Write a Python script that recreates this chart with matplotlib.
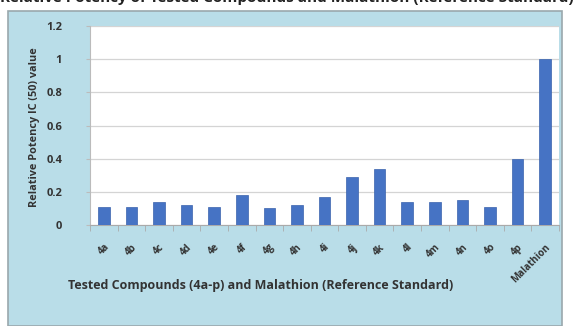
import matplotlib
matplotlib.use("Agg")
import matplotlib.pyplot as plt
from matplotlib.patches import Rectangle
import numpy as np

categories = ["4a", "4b", "4c", "4d", "4e", "4f", "4g", "4h", "4i", "4j",
              "4k", "4l", "4m", "4n", "4o", "4p", "Malathion"]
potency = [0.11, 0.11, 0.14, 0.12, 0.11, 0.18, 0.10, 0.12, 0.17, 0.29,
           0.34, 0.14, 0.14, 0.15, 0.11, 0.40, 1.00]
y_ticks = [0, 0.2, 0.4, 0.6, 0.8, 1.0, 1.2]
y_tick_labels = ["0", "0.2", "0.4", "0.6", "0.8", "1", "1.2"]

W, H = 573, 326
fig = plt.figure(figsize=(W / 100, H / 100), dpi=100)
fig.patch.set_facecolor("white")

plt.rcParams["font.family"] = ["Open Sans", "DejaVu Sans"]

# chart frame
frame = Rectangle((8 / W, 0), (562 - 8) / W, (H - 11) / H,
                  transform=fig.transFigure, facecolor="#b9dde8",
                  edgecolor="#9aa8ad", linewidth=1.2, zorder=0)
fig.patches.append(frame)

# heading running off the top edge
fig.text(0.50, 1.0 + 0.006, "Relative Potency of Tested Compounds and Malathion (Reference Standard)",
         ha="center", va="center", fontsize=11, fontweight="bold", color="#222222",
         zorder=0.5)

ax = fig.add_axes([90 / W, 1 - 225 / H, (559 - 90) / W, (225 - 26) / H])
ax.set_zorder(2)
ax.set_facecolor("white")

x = np.arange(len(categories))
ax.bar(x, potency, width=0.42, color="#4673c4", edgecolor="#3a63ad",
       linewidth=0.5, zorder=3)

ax.set_xlim(-0.5, len(categories) - 0.5)
ax.set_ylim(0, 1.2)
ax.set_yticks(y_ticks)
ax.set_yticklabels(y_tick_labels, fontsize=8, fontweight="bold", color="#333333")
ax.yaxis.grid(True, color="#d4d4d4", linewidth=0.9, zorder=0)
ax.tick_params(axis="y", length=3, color="#bbbbbb", pad=17)

ax.set_xticks(x)
ax.set_xticklabels(categories, rotation=45, ha="right", rotation_mode="anchor",
                   fontsize=7, fontweight="bold", color="#333333")
ax.set_xticks(np.arange(len(categories) + 1) - 0.5, minor=True)
ax.tick_params(axis="x", which="major", length=0, pad=12)
ax.tick_params(axis="x", which="minor", length=4, color="#aaaaaa", direction="out")

for side in ("top", "right"):
    ax.spines[side].set_visible(False)
ax.spines["left"].set_color("#bbbbbb")
ax.spines["bottom"].set_color("#aaaaaa")

fig.text(35 / W, 1 - 127 / H, "Relative Potency IC (50) value", rotation=90,
         ha="center", va="center", fontsize=7.8, fontweight="bold", color="#333333",
         zorder=3)
fig.text(68 / W, 1 - 286 / H,
         "Tested Compounds (4a-p) and Malathion (Reference Standard)",
         ha="left", va="center", fontsize=9, fontweight="bold", color="#333333",
         zorder=3)

fig.savefig("out.png", dpi=100)
